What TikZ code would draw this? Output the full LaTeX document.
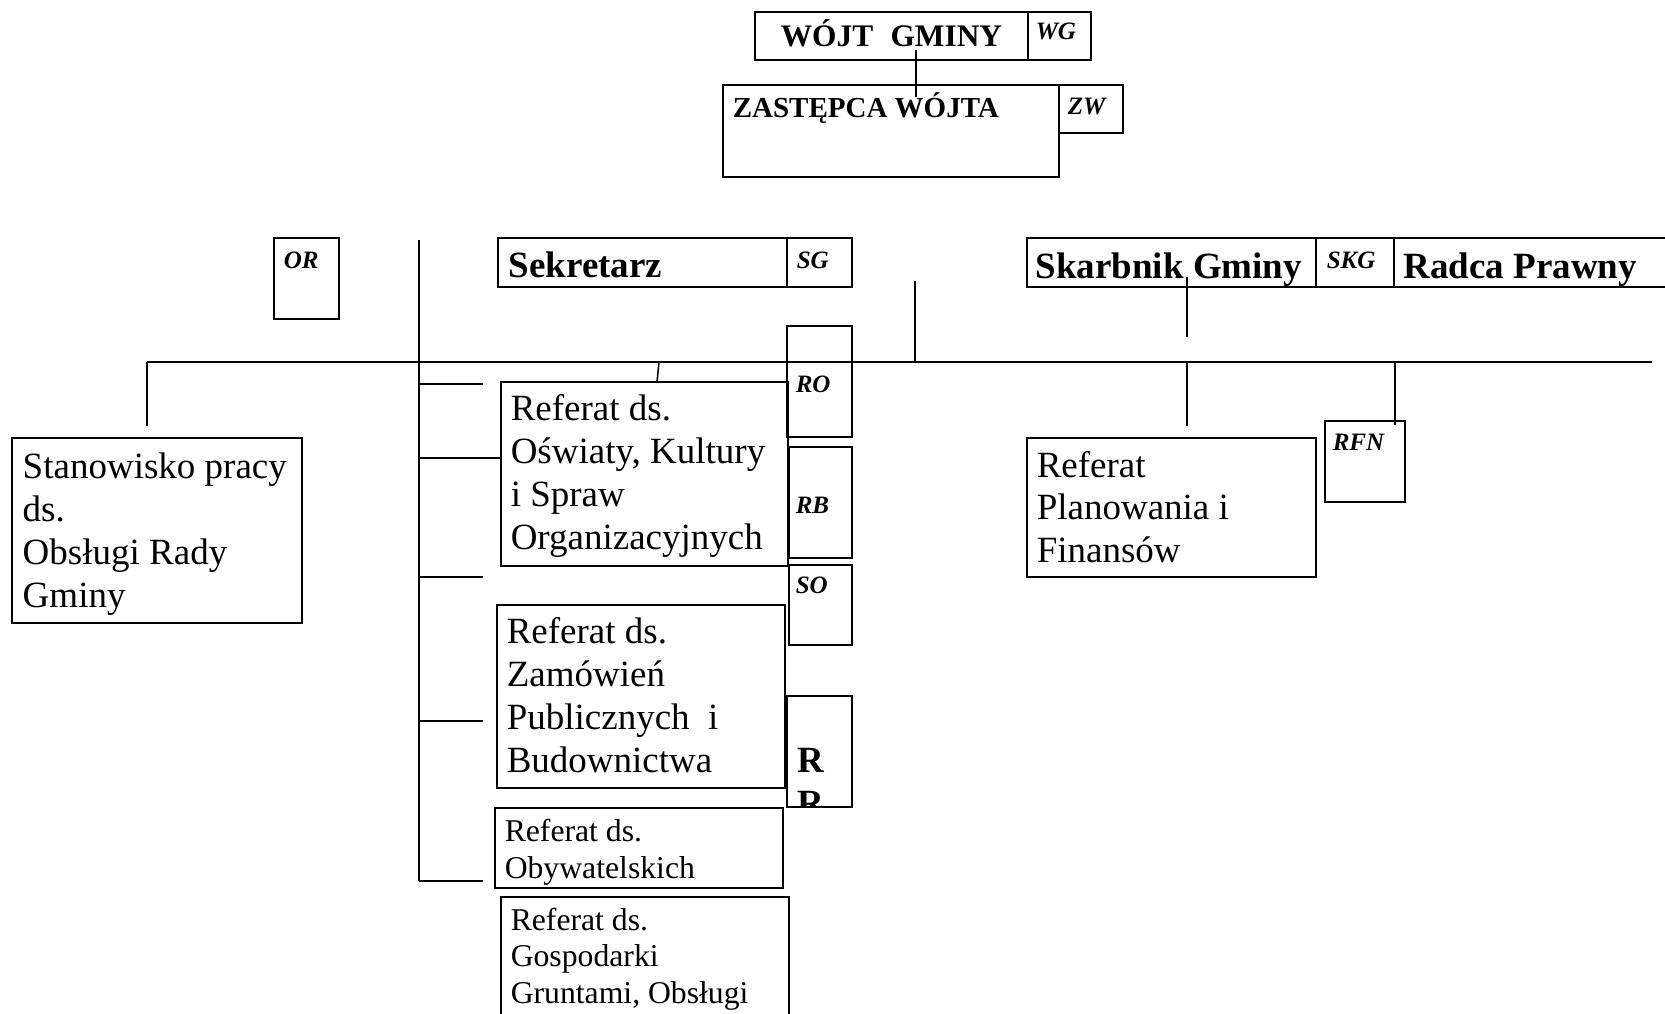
\documentclass[tikz,border=0pt]{standalone}
\usepackage{fontspec}
\setmainfont{Liberation Serif}
\begin{document}
\begin{tikzpicture}[x=1pt,y=-1pt,line width=1.5pt,
    tag/.style={draw,line width=1.3pt,inner sep=0pt,outer sep=0pt,anchor=north west},
    box/.style={draw,line width=2pt,inner sep=0pt,outer sep=0pt,anchor=north west},
    heavybox/.style={draw,line width=2.6pt,inner sep=0pt,outer sep=0pt,anchor=north west},
    txt/.style={anchor=base west,inner sep=0pt,align=left},
    big/.style={font=\fontsize{37}{43}\selectfont},
    mid/.style={font=\fontsize{31.7}{36.5}\selectfont},
    bighead/.style={font=\fontsize{37}{43}\selectfont\bfseries},
    tagtxt/.style={font=\fontsize{25}{29}\selectfont\bfseries\itshape}]
  \useasboundingbox (0,0) rectangle (1665,1014);
  \foreach \n/\x/\y/\w/\h in {wgtag/1028/12/63/48,zwtag/1059/85/64/48,ortag/274/238/65/81,%
                              sgtag/787/238/65/49,skgtag/1316/238/78/49,rotag/787/326/65/111,%
                              rbtag/789/447/63/111,sotag/789/565/63/80,rrtag/787/696/65/111,%
                              rfntag/1325/421/80/81}
    \node[tag,minimum width=\w,minimum height=\h] (\n) at (\x,\y) {};
  \foreach \n/\x/\y/\w/\h in {wg/755/12/273/48,zw/723/85/336/92,sek/498/238/289/49,%
                              skg/1027/238/289/49,radca/1394/238/290/49,stan/12/438/290/185,%
                              plan/1027/438/289/139}
    \node[box,minimum width=\w,minimum height=\h] (\n) at (\x,\y) {};
  \foreach \n/\x/\y/\w/\h in {oswiaty/501/382/287/184,zam/497/605/288/183,%
                              obyw/495/808/288/80,gosp/501/897/288/140}
    \node[heavybox,minimum width=\w,minimum height=\h] (\n) at (\x,\y) {};

  \node[txt,font=\fontsize{31.4}{36}\selectfont\bfseries] (wgtxt) at (780,47) {WÓJT\hspace{0.55em}GMINY};
  \node[txt,font=\fontsize{29}{34}\selectfont\bfseries] (zwtxt) at (732,118) {ZASTĘPCA WÓJTA};
  \node[txt,bighead] (sektxt) at (508,277) {Sekretarz};
  \node[txt,bighead] (skgtxt) at (1035,278) {Skarbnik Gminy};
  \node[txt,bighead] (radcatxt) at (1403,278) {Radca Prawny};
  \foreach \n/\x/\y/\l in {wgl/1035/40/WG,zwl/1067/115/ZW,orl/283/268/OR,sgl/796/268/SG,%
                           skgl/1326/268/SKG,rol/795/392/RO,rbl/795/513/RB,sol/795/593/SO,%
                           rfnl/1332/450/RFN}
    \node[txt,tagtxt] (\n) at (\x,\y) {\l};
  \begin{scope}
    \clip (rrtag.north west) rectangle (rrtag.south east);
    \node[txt,bighead] (rrtxt) at (797,815) {R\\R};
  \end{scope}

  \node[txt,big] (stantxt) at (22,607) {Stanowisko pracy\\ds.\\Obsługi Rady\\Gminy};
  \node[txt,big] (oswiatytxt) at (510,549) {Referat ds.\\Oświaty, Kultury\\i Spraw\\Organizacyjnych};
  \node[txt,big] (zamtxt) at (506,772) {Referat ds.\\Zamówień\\Publicznych\ \ i\\Budownictwa};
  \node[txt,mid] (obywtxt) at (504,878) {Referat ds.\\Obywatelskich};
  \node[txt,mid] (gosptxt) at (510,1003) {Referat ds.\\Gospodarki\\Gruntami, Obsługi};
  \node[txt,font=\fontsize{37}{42.5}\selectfont] (plantxt) at (1036,562) {Referat\\Planowania i\\Finansów};

  \coordinate (wgtail) at (916,50);
  \coordinate (zwhead) at (916,97);
  \coordinate (zwstub) at (915,281);
  \coordinate (busL) at (147,362);
  \coordinate (busR) at (1652,362);
  \coordinate (stantop) at (147,426);
  \coordinate (spineT) at (419,240);
  \coordinate (spineB) at (419,881);
  \coordinate (oswin) at (501,458);
  \coordinate (sektail) at (659,362);
  \coordinate (oswtop) at (657,382);
  \coordinate (skgtail) at (1187,277);
  \coordinate (skghead) at (1187,337);
  \coordinate (plantop) at (1187,426);
  \coordinate (rfntop) at (1395,425);

  \draw (wgtail) -- (zwhead);
  \draw (zwstub) -- (zwstub |- busL);
  \draw (busL) -- (busR);
  \draw (busL) -- (stantop);
  \draw (spineT) -- (spineB);
  \foreach \i/\y in {a/384,b/577,c/721,d/881} {
    \coordinate (stub\i) at (483,\y);
    \draw (stub\i -| spineT) -- (stub\i);
  }
  \draw (oswin -| spineT) -- (oswin);
  \draw (sektail) -- (oswtop);
  \draw (skgtail) -- (skghead);
  \draw (plantop |- busL) -- (plantop);
  \draw (rfntop |- busL) -- (rfntop);
\end{tikzpicture}
\end{document}
